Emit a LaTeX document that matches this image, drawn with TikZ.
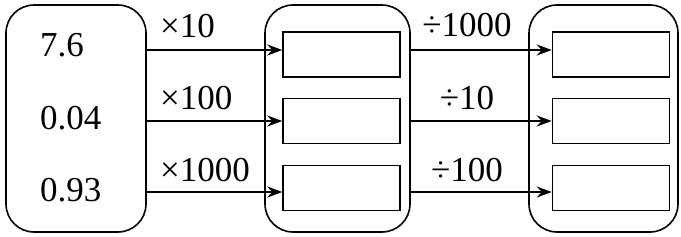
\documentclass[tikz,border=0pt]{standalone}
\usepackage{fontspec}
\setmainfont{Liberation Serif}
\usetikzlibrary{arrows.meta}
\begin{document}
\begin{tikzpicture}[x=1pt,y=-1pt,
  outer/.style={draw,line width=1.6pt,rounded corners=28pt},
  slot/.style={draw,line width=1.5pt,minimum width=117pt,minimum height=45pt,inner sep=0pt},
  conn/.style={line width=1.5pt,-{Stealth[length=15pt,width=11pt]}},
  txt/.style={font=\fontsize{35}{42}\selectfont,inner sep=0pt},
  lbl/.style={font=\fontsize{35}{42}\selectfont,inner sep=0pt}]
\useasboundingbox (0,0) rectangle (681,236);
\draw[outer] (6,5) rectangle (146,232);
\draw[outer] (265,5) rectangle (410,232);
\draw[outer] (529,5) rectangle (678,232);
\node[txt,anchor=west] (v1) at (40,45) {7.6};
\node[txt,anchor=west] (v2) at (40,118) {0.04};
\node[txt,anchor=west] (v3) at (40,190) {0.93};
\coordinate (s1) at (146,50);
\coordinate (s2) at (146,121);
\coordinate (s3) at (146,192);
\node[slot] (m1) at (341.5,54.5) {};
\node[slot] (m2) at (341.5,121) {};
\node[slot] (m3) at (341.5,188) {};
\node[slot] (r1) at (611,54.5) {};
\node[slot] (r2) at (611,121) {};
\node[slot] (r3) at (611,188) {};
\coordinate (t1) at (410,50);
\coordinate (t2) at (410,121);
\coordinate (t3) at (410,192);
\draw[conn] (s1) -- (m1.west |- s1);
\draw[conn] (s2) -- (m2.west |- s2);
\draw[conn] (s3) -- (m3.west |- s3);
\draw[conn] (t1) -- (r1.west |- t1);
\draw[conn] (t2) -- (r2.west |- t2);
\draw[conn] (t3) -- (r3.west |- t3);
\node[lbl,anchor=west] (a1) at (160,26) {×10};
\node[lbl,anchor=west] (a2) at (160,98) {×100};
\node[lbl,anchor=west] (a3) at (160,170) {×1000};
\node[lbl] (b1) at (467,25) {÷1000};
\node[lbl] (b2) at (467,98) {÷10};
\node[lbl] (b3) at (467,170) {÷100};
\end{tikzpicture}
\end{document}
